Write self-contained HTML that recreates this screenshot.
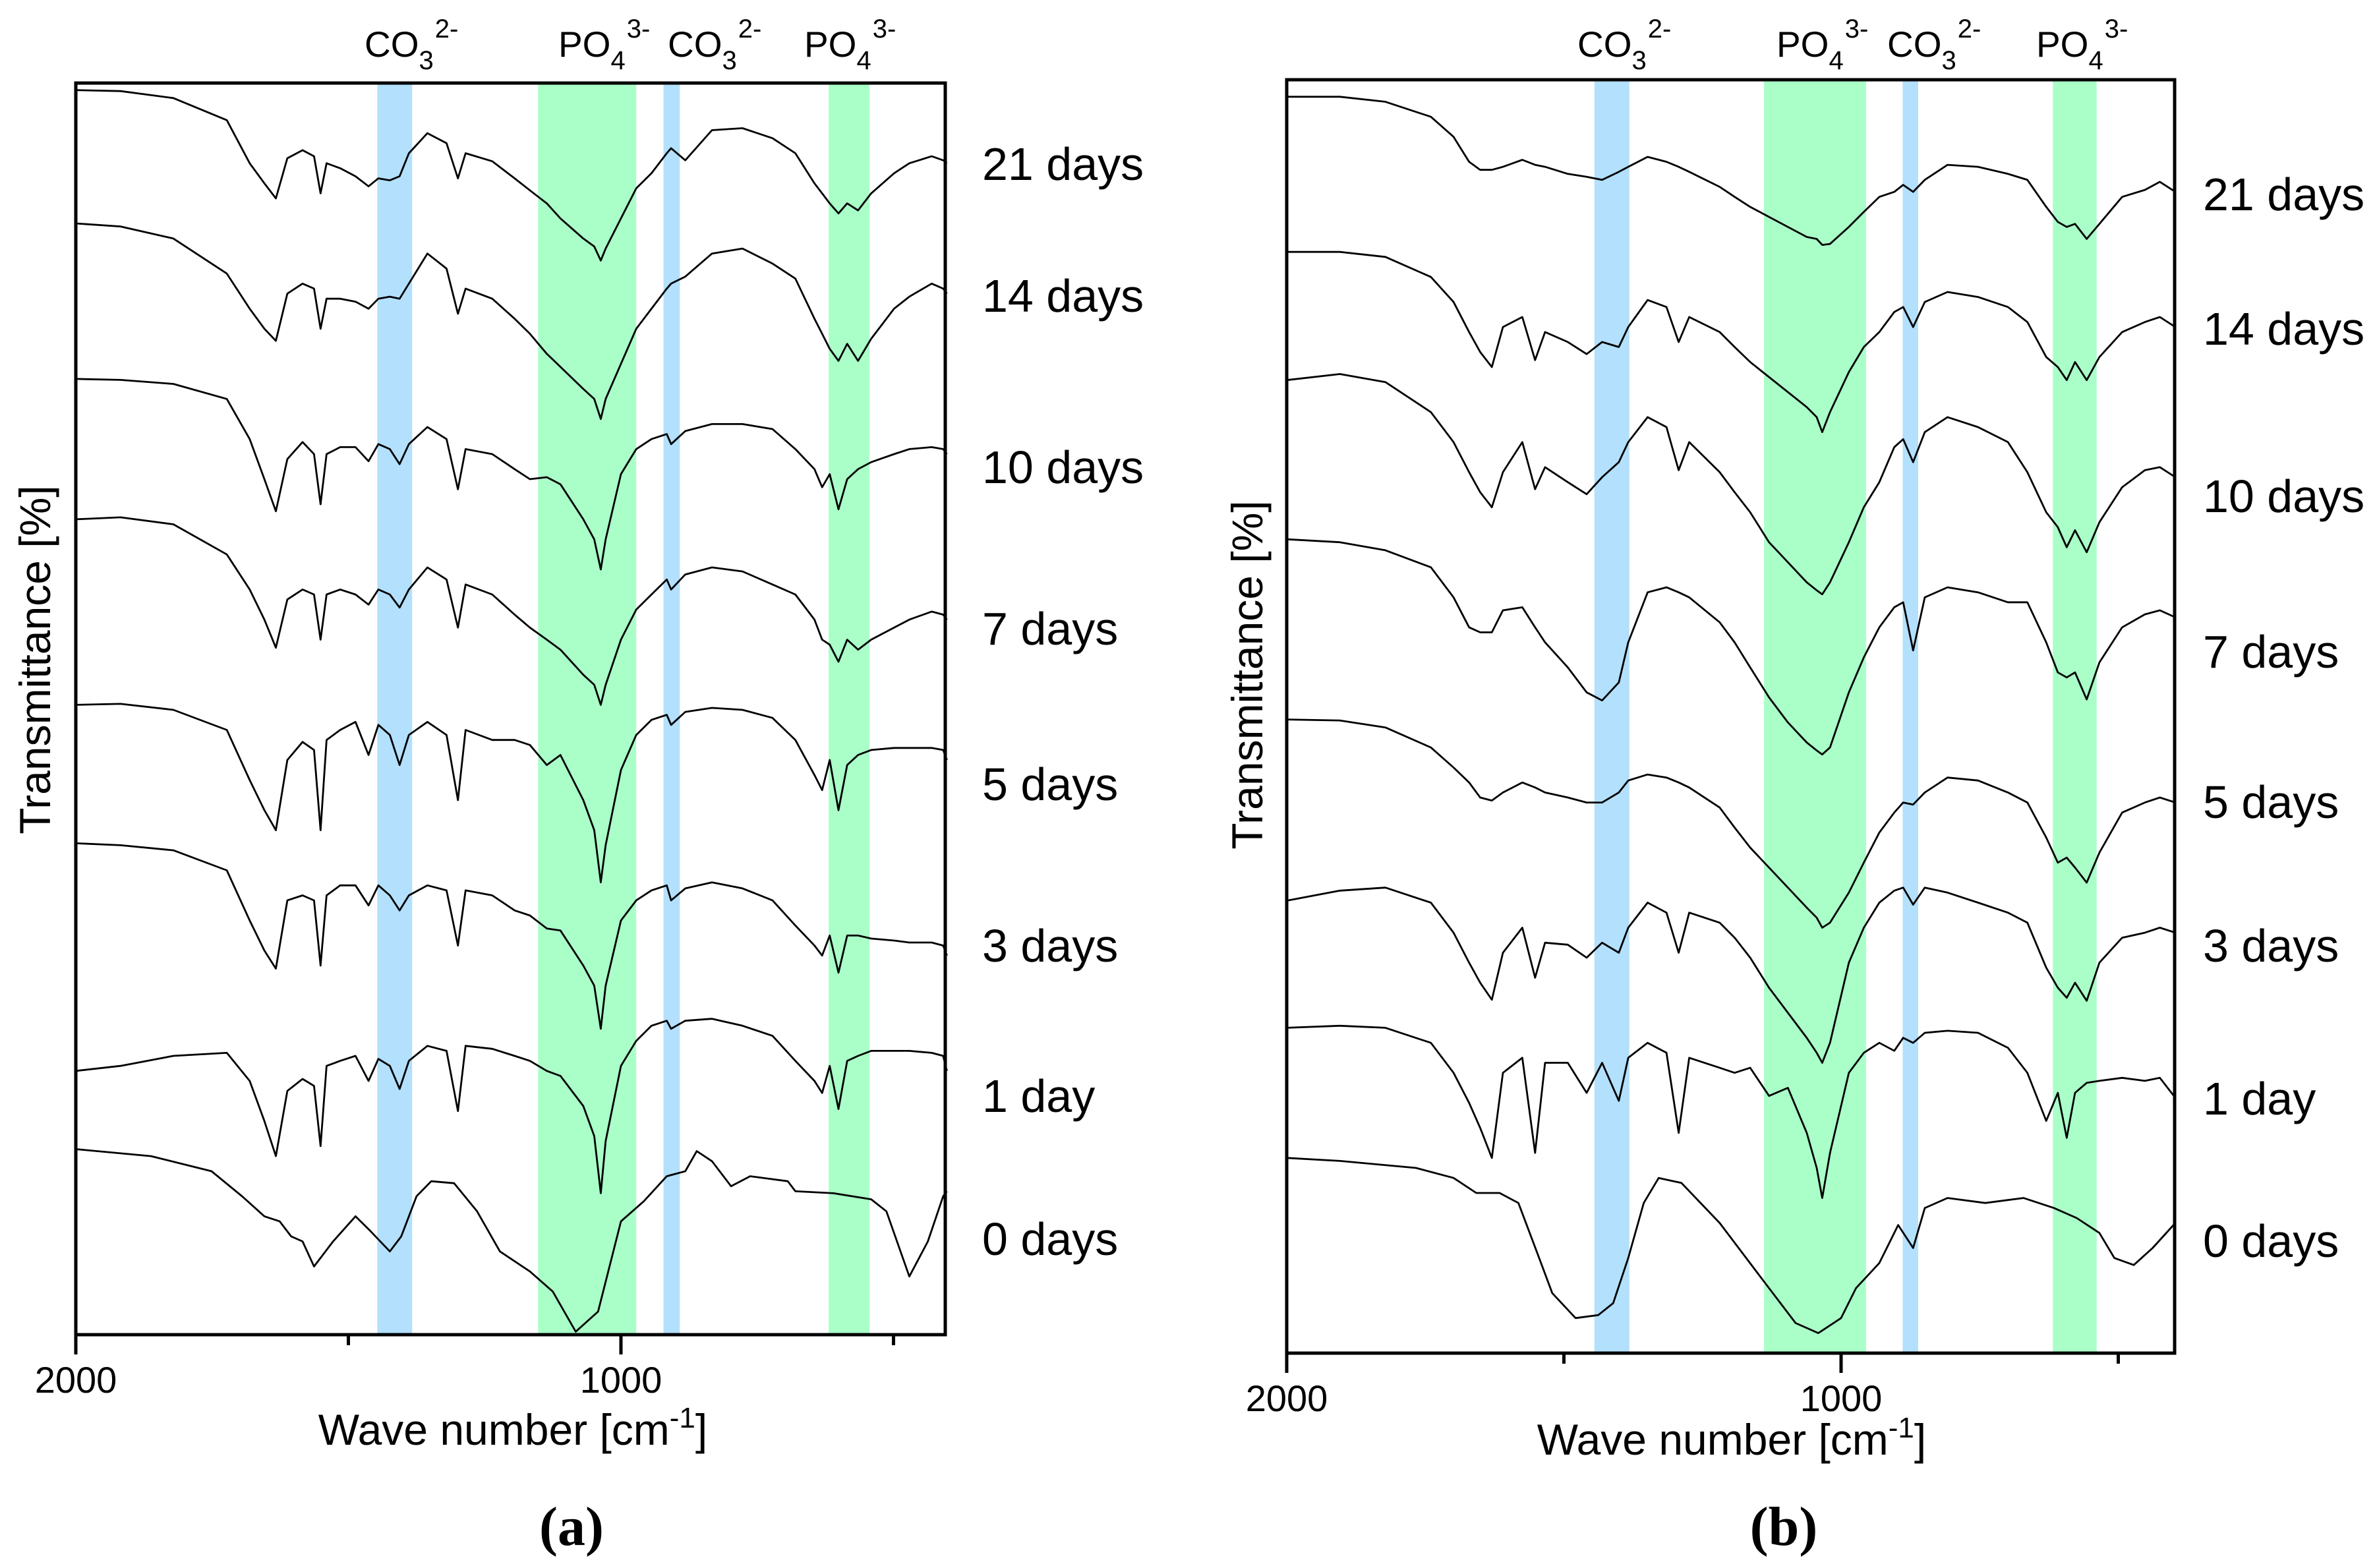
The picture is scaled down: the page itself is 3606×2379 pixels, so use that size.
<!DOCTYPE html>
<html><head><meta charset="utf-8"><style>
html,body{margin:0;padding:0;background:#fff}
svg{display:block}
text{font-family:"Liberation Sans",sans-serif;fill:#000}
</style></head><body>
<svg id="fig" width="3606" height="2379" viewBox="0 0 3606 2379" xmlns="http://www.w3.org/2000/svg"></svg>
<script>
// ---------- Panel (a) data ----------
const gridA = [2000,1918,1821,1723,1681,1654,1633,1612,1584,1563,1551,1540,1515,1487,1463,1445,1424,1406,1389,1355,1320,1299,1285,1236,1195,1167,1136,1111,1069,1049,1037,1028,1000,972,944,916,908,882,833,777,722,680,645,631,617,601,585,565,541,499,471,430,409,402];
const a21 = [1241,1240,1233,1211,1168,1148,1133,1173,1181,1175,1138,1168,1163,1155,1145,1153,1151,1155,1178,1198,1188,1153,1178,1170,1153,1141,1128,1113,1093,1085,1071,1083,1113,1143,1158,1178,1183,1171,1201,1203,1193,1178,1148,1138,1128,1118,1128,1121,1138,1158,1168,1175,1171,1168];
const a14 = [1108,1105,1093,1058,1023,1003,991,1038,1048,1043,1003,1033,1033,1030,1023,1033,1035,1033,1048,1078,1063,1018,1043,1033,1013,998,978,965,943,933,913,933,968,1003,1023,1043,1048,1055,1078,1083,1068,1053,1013,998,983,971,988,971,993,1023,1035,1048,1043,1038];
const a10 = [953,952,948,933,893,853,821,873,890,878,828,878,885,885,871,888,883,868,888,905,893,843,883,878,863,853,855,848,813,793,763,793,858,883,893,898,888,901,908,908,903,883,863,845,858,823,853,863,870,878,883,885,883,878];
const a7 = [813,815,808,778,743,713,685,733,743,738,693,738,743,738,728,743,738,725,743,765,753,705,748,738,718,705,693,683,658,648,628,648,693,723,738,753,743,758,765,761,748,738,713,693,688,671,693,683,693,705,713,721,718,713];
const a5 = [628,629,623,603,553,523,503,573,591,583,503,593,603,611,578,608,598,568,598,611,598,533,603,593,593,588,568,578,533,503,451,488,563,598,613,618,608,621,625,623,615,593,558,543,573,523,568,578,583,585,585,585,583,573];
const a3 = [490,488,483,463,413,383,365,433,438,433,368,438,448,448,428,448,438,423,438,448,443,388,443,438,423,418,405,403,368,348,305,348,413,433,443,448,433,445,451,445,433,408,388,378,398,361,398,398,395,393,391,391,388,378];
const a1 = [263,268,278,281,253,213,178,243,255,248,188,268,273,278,253,275,268,245,273,288,283,223,288,285,278,273,263,258,228,198,141,193,268,293,308,313,305,313,315,308,298,273,253,241,268,225,273,278,283,283,283,281,278,263];
const gridA0 = [2000,1862,1751,1695,1654,1626,1605,1584,1563,1528,1487,1459,1424,1403,1375,1348,1306,1264,1222,1167,1125,1083,1042,1000,958,916,882,861,833,798,763,694,680,610,541,513,471,437,409,402];
const a0 = [185,178,163,138,118,113,98,93,68,93,118,103,83,98,138,153,151,123,83,63,43,3,23,113,133,158,163,183,173,148,158,153,143,141,135,123,58,93,138,143];

// ---------- Panel (b) data ----------
const gridB = [2000,1904,1822,1740,1699,1671,1651,1630,1610,1575,1552,1534,1493,1459,1431,1401,1384,1349,1315,1293,1274,1219,1192,1164,1130,1096,1062,1044,1034,1020,986,959,931,904,888,870,849,808,753,699,664,630,609,593,578,557,534,493,452,425,397];
const b21 = [1255,1255,1250,1235,1215,1190,1182,1182,1185,1192,1187,1185,1178,1175,1172,1180,1185,1195,1190,1185,1180,1165,1155,1145,1135,1125,1115,1113,1107,1108,1125,1140,1155,1160,1167,1160,1172,1187,1185,1178,1172,1145,1130,1125,1128,1113,1128,1155,1162,1170,1160];
const b14 = [1100,1100,1095,1075,1050,1020,1000,985,1025,1035,992,1020,1010,998,1010,1005,1025,1052,1045,1010,1035,1020,1005,990,975,960,945,935,920,940,980,1005,1020,1040,1045,1025,1050,1060,1055,1045,1030,995,985,972,990,972,995,1020,1030,1035,1025];
const b10 = [972,978,970,940,910,880,860,845,880,910,863,885,870,858,875,890,910,935,925,882,910,880,860,840,810,790,770,762,758,770,810,845,870,905,913,890,920,935,925,910,880,840,825,805,822,800,830,865,882,885,875];
const b7 = [813,810,802,785,755,725,720,720,742,745,725,710,685,660,652,670,710,760,765,760,755,730,710,685,655,630,610,602,598,605,660,695,725,745,750,702,755,765,760,750,750,710,680,675,680,653,690,725,738,742,735];
const b5 = [633,632,625,605,585,570,555,552,560,570,565,560,555,550,550,560,572,578,575,570,565,545,525,505,485,465,445,435,425,430,460,490,520,540,550,548,560,575,572,560,550,515,490,495,485,470,500,540,550,555,550];
const b3 = [452,462,465,450,420,390,370,353,400,425,375,410,408,395,410,400,425,450,440,400,440,430,415,395,365,340,315,300,290,310,390,425,450,462,465,448,465,460,450,440,430,385,365,355,370,352,390,415,420,425,420];
const b1 = [325,327,325,310,280,250,225,195,280,295,200,290,290,260,290,252,295,310,300,220,295,285,280,285,257,265,220,185,155,200,280,300,310,302,315,310,320,322,320,305,280,232,260,215,260,270,272,275,272,275,255];
const gridB0 = [2000,1904,1767,1699,1658,1616,1582,1548,1521,1479,1438,1411,1384,1356,1329,1288,1219,1137,1082,1041,1000,973,931,897,870,849,808,740,671,616,575,534,507,472,438,397];
const b0 = [195,192,185,175,160,160,150,100,60,35,38,50,95,150,175,170,130,70,30,20,35,65,90,128,105,145,155,150,155,145,135,120,95,88,105,130];

// day labels and band ranges (wavenumbers)
const dayLabels = ["21 days","14 days","10 days","7 days","5 days","3 days","1 day","0 days"];
const bandsA = [[1447,1383,"co3"],[1152,972,"po4"],[922,892,"co3"],[619,544,"po4"]];
const bandsB = [[1445,1382,"co3"],[1139,955,"po4"],[889,861,"co3"],[618,539,"po4"]];
const xTicks = [2000,1000];
const xMinor = [1500,500];

const NS="http://www.w3.org/2000/svg";
const svg=document.getElementById('fig');
function el(tag,attrs,parent){const e=document.createElementNS(NS,tag);for(const k in attrs)e.setAttribute(k,attrs[k]);(parent||svg).appendChild(e);return e;}

function panel(cfg){
  const g=el('g',{});
  
  
  const xs=wn=>cfg.left+(2000-wn)*(cfg.x1000-cfg.left)/1000;
  const ys=v=>cfg.bottom-v*(cfg.bottom-cfg.top)/cfg.vmax;
  cfg.bands.forEach((b,i)=>{
    const r=el('rect',{x:xs(b[0]),y:cfg.top,width:xs(b[1])-xs(b[0]),height:cfg.bottom-cfg.top,fill:b[2]==='co3'?'#b3e0fc':'#aaffc8'},g);
    
    
  });
  cfg.series.forEach((s,i)=>{
    const pts=s.v.map((v,j)=>xs(s.x[j]).toFixed(1)+','+ys(v).toFixed(1)).join(' ');
    const p=el('polyline',{points:pts,fill:'none',stroke:'#000','stroke-width':2.8,'stroke-linejoin':'round'},g);
    
    
  });
  const fr=el('rect',{x:cfg.left,y:cfg.top,width:cfg.right-cfg.left,height:cfg.bottom-cfg.top,fill:'none',stroke:'#000','stroke-width':5},g);
  
  
  xTicks.forEach(t=>{
    const l=el('line',{x1:xs(t),x2:xs(t),y1:cfg.bottom,y2:cfg.bottom+30,stroke:'#000','stroke-width':5},g);
    
    
    const tx=el('text',{x:xs(t),y:cfg.bottom+88,'font-size':56,'text-anchor':'middle'},g);
    tx.textContent=t;
    
    
  });
  xMinor.forEach(t=>{
    const l=el('line',{x1:xs(t),x2:xs(t),y1:cfg.bottom,y2:cfg.bottom+16,stroke:'#000','stroke-width':5},g);
    
    
  });
  cfg.bandLabels.forEach((bl,i)=>{
    const t=el('text',{x:bl[0],y:86,'font-size':55},g);
    
    
    const isC=bandsA[i][2]==='co3';
    t.appendChild(document.createTextNode(isC?'CO':'PO'));
    const sub=el('tspan',{'font-size':40,dy:19},t);sub.textContent=isC?'3':'4';
    const sup=el('tspan',{'font-size':40,dy:-48,dx:2},t);sup.textContent=isC?'2-':'3-';
  });
  dayLabels.forEach((d,i)=>{
    const t=el('text',{x:cfg.dayX,y:cfg.dayY[i],'font-size':70},g);
    t.textContent=d;
    
    
  });
  const yt=el('text',{x:0,y:0,'font-size':66,'text-anchor':'middle',transform:`translate(${cfg.ytX},${cfg.ytY}) rotate(-90)`},g);
  yt.textContent='Transmittance [%]';
  
  
  const xt=el('text',{x:cfg.xtX,y:cfg.xtY,'font-size':66,'text-anchor':'middle'},g);
  xt.appendChild(document.createTextNode('Wave number [cm'));
  const sp=el('tspan',{'font-size':44,dy:-26},xt);sp.textContent='-1';
  const cl=el('tspan',{dy:26},xt);cl.textContent=']';
  
  
  const pl=el('text',{x:cfg.plX,y:2344,'font-size':84,'font-weight':'bold','text-anchor':'middle',style:'font-family:"Liberation Serif",serif'},g);
  pl.textContent=cfg.panelLabel;
  
  
}

panel({name:'panel-a',left:115,x1000:942,right:1434,top:126,bottom:2025,vmax:1248,
  bands:bandsA,
  series:[{x:gridA,v:a21},{x:gridA,v:a14},{x:gridA,v:a10},{x:gridA,v:a7},{x:gridA,v:a5},{x:gridA,v:a3},{x:gridA,v:a1},{x:gridA0,v:a0}],
  bandLabels:[[553],[847],[1013],[1220]],
  dayX:1490,dayY:[273,473,733,978,1214,1459,1687,1904],
  ytX:76,ytY:1001,xtX:778,xtY:2192,plX:867,panelLabel:'(a)'});
panel({name:'panel-b',left:1952,x1000:2793,right:3299,top:121,bottom:2053,vmax:1272,
  bands:bandsB,
  series:[{x:gridB,v:b21},{x:gridB,v:b14},{x:gridB,v:b10},{x:gridB,v:b7},{x:gridB,v:b5},{x:gridB,v:b3},{x:gridB,v:b1},{x:gridB0,v:b0}],
  bandLabels:[[2393],[2695],[2863],[3089]],
  dayX:3342,dayY:[319,523,777,1013,1241,1459,1691,1907],
  ytX:1915,ytY:1024,xtX:2627,xtY:2207,plX:2706,panelLabel:'(b)'});
</script>
</body></html>
